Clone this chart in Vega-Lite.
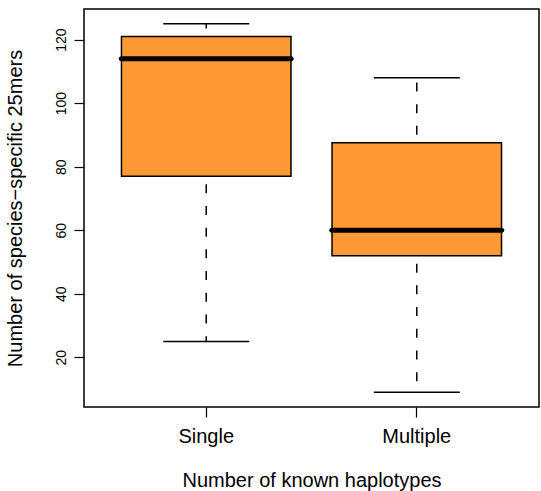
{
  "$schema": "https://vega.github.io/schema/vega-lite/v6.json",
  "width": 455,
  "height": 398,
  "autosize": {"type": "none"},
  "padding": {"left": 84, "top": 9, "right": 2, "bottom": 84},
  "background": "white",
  "config": {
    "font": "Liberation Sans",
    "view": {"stroke": "black", "strokeWidth": 1.5},
    "axis": {"grid": false, "domain": false, "tickColor": "black", "tickWidth": 1.2, "tickSize": 10, "labelColor": "black", "titleColor": "black", "titleFontWeight": "normal", "labelFont": "Liberation Sans", "titleFont": "Liberation Sans"}
  },
  "data": {"values": [
    {"group": "Single", "min": 25, "q1": 77, "median": 114, "q3": 121, "max": 125},
    {"group": "Multiple", "min": 9, "q1": 52, "median": 60, "q3": 87.5, "max": 108}
  ]},
  "encoding": {
    "x": {
      "field": "group", "type": "nominal", "sort": ["Single", "Multiple"],
      "scale": {"paddingInner": 0.195, "paddingOuter": 0.178},
      "axis": {"labelAngle": 0, "labelFontSize": 20, "labelPadding": 9, "title": "Number of known haplotypes", "titleFontSize": 20, "titlePadding": 24}
    }
  },
  "layer": [
    {
      "mark": {"type": "rule", "color": "black", "strokeWidth": 1.5, "strokeDash": [9, 12.7], "strokeDashOffset": -8},
      "encoding": {
        "y": {"field": "q1", "type": "quantitative", "scale": {"domain": [4.36, 129.64], "nice": false, "zero": false},
          "axis": {"values": [20, 40, 60, 80, 100, 120], "labelAngle": -90, "labelFontSize": 14, "labelPadding": 6, "labelAlign": "center", "labelBaseline": "bottom", "title": "Number of species\u2212specific 25mers", "titleFontSize": 20, "titlePadding": 29}},
        "y2": {"field": "min"}
      }
    },
    {
      "mark": {"type": "rule", "color": "black", "strokeWidth": 1.5, "strokeDash": [9, 12.7], "strokeDashOffset": -8},
      "encoding": {
        "y": {"field": "q3", "type": "quantitative"},
        "y2": {"field": "max"}
      }
    },
    {
      "mark": {"type": "tick", "color": "black", "size": 86, "thickness": 1.6, "opacity": 1},
      "encoding": {"y": {"field": "min", "type": "quantitative"}}
    },
    {
      "mark": {"type": "tick", "color": "black", "size": 86, "thickness": 1.6, "opacity": 1},
      "encoding": {"y": {"field": "max", "type": "quantitative"}}
    },
    {
      "mark": {"type": "bar", "fill": "#FF9933", "stroke": "black", "strokeWidth": 1.5, "width": {"band": 1}},
      "encoding": {
        "y": {"field": "q1", "type": "quantitative"},
        "y2": {"field": "q3"}
      }
    },
    {
      "mark": {"type": "tick", "color": "black", "size": 175, "thickness": 5, "cornerRadius": 2.5, "opacity": 1},
      "encoding": {"y": {"field": "median", "type": "quantitative"}}
    }
  ]
}
